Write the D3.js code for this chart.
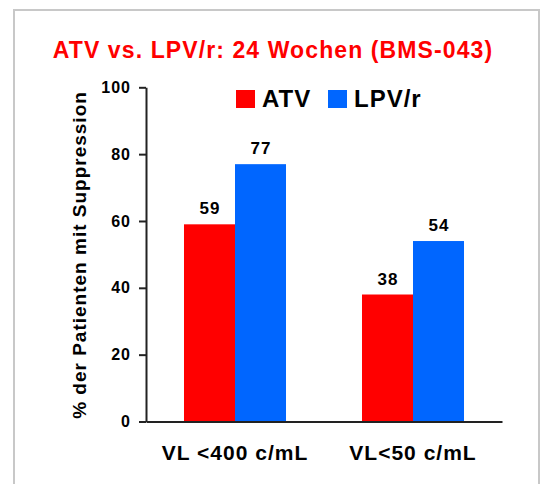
<!DOCTYPE html>
<html>
<head>
<meta charset="utf-8">
<script src="https://cdn.jsdelivr.net/npm/d3@7"></script>
<style>
  body { margin: 0; background: #fff; }
  svg { display: block; font-family: "Liberation Sans", Arial, sans-serif; font-weight: bold; }
</style>
</head>
<body>
<svg id="chart" width="541" height="484"></svg>
<script>
// data
const categories = ["VL <400 c/mL", "VL<50 c/mL"];
const seriesNames = ["ATV", "LPV/r"];
const atvValues = [59, 38];
const lpvValues = [77, 54];
const yTicks = [0, 20, 40, 60, 80, 100];

const colors = { "ATV": "#ff0000", "LPV/r": "#0066ff" };

const svg = d3.select("#chart");

// slide frame
svg.append("rect")
  .attr("x", 14).attr("y", 10)
  .attr("width", 525).attr("height", 500)
  .attr("fill", "none")
  .attr("stroke", "#c8c8c8")
  .attr("stroke-width", 2);

// title
svg.append("text")
  .attr("x", 273).attr("y", 58)
  .attr("text-anchor", "middle")
  .attr("fill", "#ff0000")
  .style("font-size", "23px")
  .style("letter-spacing", "1.1px")
  .text("ATV vs. LPV/r: 24 Wochen (BMS-043)");

const plotLeft = 146, plotRight = 502, plotTop = 87.3, plotBottom = 421.5;

const x0 = d3.scaleBand().domain(categories).range([plotLeft, plotRight]).padding(0);
const x1 = d3.scaleBand().domain(seriesNames).range([0, x0.bandwidth()])
  .paddingInner(0).paddingOuter(0.745);
const y = d3.scaleLinear().domain([0, 100]).range([plotBottom, plotTop]);

const rows = categories.map((c, i) => ({
  cat: c,
  vals: [
    { name: "ATV", v: atvValues[i] },
    { name: "LPV/r", v: lpvValues[i] }
  ]
}));

// bars
const g = svg.selectAll("g.grp")
  .data(rows)
  .enter().append("g")
  .attr("class", "grp")
  .attr("transform", d => `translate(${x0(d.cat)},0)`);

g.selectAll("rect")
  .data(d => d.vals)
  .enter().append("rect")
  .attr("x", d => x1(d.name))
  .attr("y", d => y(d.v))
  .attr("width", x1.bandwidth())
  .attr("height", d => y(0) - y(d.v))
  .attr("fill", d => colors[d.name]);

// value labels above the bars
g.selectAll("text.val")
  .data(d => d.vals)
  .enter().append("text")
  .attr("class", "val")
  .attr("x", d => x1(d.name) + x1.bandwidth() / 2 + 0.5)
  .attr("y", d => y(d.v) - 10)
  .attr("text-anchor", "middle")
  .style("font-size", "17px")
  .style("letter-spacing", "1px")
  .text(d => d.v);

// y axis
const yAxis = svg.append("g")
  .attr("transform", `translate(${plotLeft},0)`)
  .call(d3.axisLeft(y).tickValues(yTicks).tickSize(7).tickSizeOuter(0).tickPadding(8));
yAxis.select(".domain").attr("stroke", "#222").attr("stroke-width", 2);
yAxis.selectAll(".tick line").attr("stroke", "#222").attr("stroke-width", 2);
yAxis.selectAll(".tick text")
  .attr("fill", "#000")
  .style("font-size", "16px")
  .style("letter-spacing", "1px")
  .style("font-family", "\"Liberation Sans\", Arial, sans-serif")
  .style("font-weight", "bold");

// x axis
const xAxis = svg.append("g")
  .attr("transform", `translate(0,${plotBottom})`)
  .call(d3.axisBottom(x0).tickSize(0).tickSizeOuter(0).tickPadding(24));
xAxis.select(".domain").attr("stroke", "#222").attr("stroke-width", 2);
xAxis.selectAll(".tick text")
  .attr("fill", "#000")
  .style("font-size", "21px")
  .style("letter-spacing", "1px")
  .style("font-family", "\"Liberation Sans\", Arial, sans-serif")
  .style("font-weight", "bold");

// y label
svg.append("text")
  .attr("transform", "translate(86,255) rotate(-90)")
  .attr("text-anchor", "middle")
  .style("font-size", "19px")
  .style("letter-spacing", "1px")
  .text("% der Patienten mit Suppression");

// legend
const legendX = [236, 328];
seriesNames.forEach((s, i) => {
  svg.append("rect")
    .attr("x", legendX[i]).attr("y", 90)
    .attr("width", 19).attr("height", 18)
    .attr("fill", colors[s]);
  svg.append("text")
    .attr("x", legendX[i] + 26).attr("y", 107)
    .style("font-size", "24px")
    .style("letter-spacing", "1px")
    .text(s);
});
</script>
</body>
</html>
